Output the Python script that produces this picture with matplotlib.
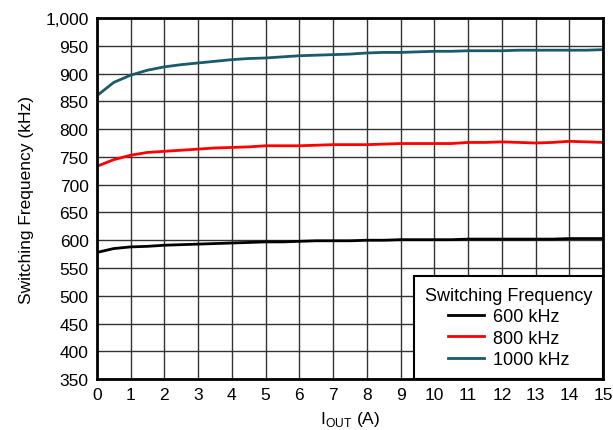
import matplotlib
matplotlib.use("Agg")
from matplotlib import pyplot as plt

plt.rcParams['font.family'] = ['Liberation Sans', 'DejaVu Sans']

iout = [0, 0.5, 1, 1.5, 2, 2.5, 3, 3.5, 4, 4.5, 5, 5.5, 6, 6.5, 7, 7.5, 8, 8.5, 9,
        9.5, 10, 10.5, 11, 11.5, 12, 12.5, 13, 13.5, 14, 14.5, 15]
f600 = [578, 585, 588, 589, 591, 592, 593, 594, 595, 596, 597, 597, 598, 599, 599, 599,
        600, 600, 601, 601, 601, 601, 602, 602, 602, 602, 602, 602, 603, 603, 603]
f800 = [733, 745, 753, 758, 760, 762, 764, 766, 767, 768, 770, 770, 770, 771, 772, 772,
        772, 773, 774, 774, 774, 774, 776, 776, 777, 776, 775, 776, 778, 777, 776]
f1000 = [860, 884, 897, 906, 912, 916, 919, 922, 925, 927, 928, 930, 932, 933, 934, 935,
         937, 938, 938, 939, 940, 940, 941, 941, 941, 942, 942, 942, 942, 942, 943]

fig = plt.figure(figsize=(6.13, 4.31), dpi=100)
ax = fig.add_axes([0.158, 0.118, 0.826, 0.838])

ax.plot(iout, f600, color="black", linewidth=2, label="600 kHz")
ax.plot(iout, f800, color="#ff0000", linewidth=2, label="800 kHz")
ax.plot(iout, f1000, color="#1a5a6a", linewidth=2, label="1000 kHz")

ax.set_xlim(0, 15)
ax.set_ylim(350, 1000)
ax.set_xticks(range(0, 16))
ax.set_yticks(range(350, 1001, 50))
ax.set_yticklabels([f"{v:,}" for v in range(350, 1001, 50)])
ax.tick_params(labelsize=12.5, length=0, pad=6)
ax.grid(True, color="#333333", linewidth=1)
ax.set_axisbelow(True)
for s in ax.spines.values():
    s.set_linewidth(2)

ax.set_xlabel(r"I$_{\mathregular{OUT}}$ (A)", fontsize=12.5, labelpad=5)
ax.set_ylabel("Switching Frequency (kHz)", fontsize=12.5, labelpad=8)

leg = ax.legend(title="Switching Frequency", loc="lower right", fontsize=13,
                title_fontsize=13, fancybox=False, edgecolor="black",
                framealpha=1, borderpad=0.6, handlelength=2.0, handletextpad=0.5,
                labelspacing=0.25, borderaxespad=0)
leg.get_frame().set_linewidth(1.5)

plt.savefig("out.png", dpi=100)
